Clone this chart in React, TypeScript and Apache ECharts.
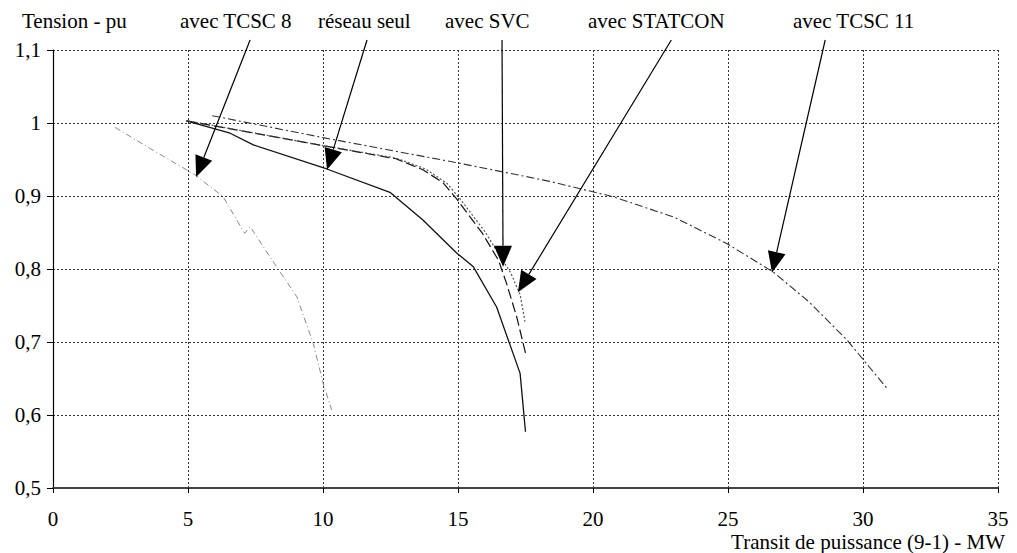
import React, { useEffect, useRef } from "react";
import * as echarts from "echarts";

const FONT = "Liberation Serif";

// X axis ticks (MW) and Y axis ticks (pu)
const xTicks = [0, 5, 10, 15, 20, 25, 30, 35];
const yTicks = [0.5, 0.6, 0.7, 0.8, 0.9, 1.0, 1.1];

// Series: réseau seul
const reseauX = [4.94, 6.56, 7.42, 10.14, 12.48, 13.7, 14.95, 15.57, 16.43, 17.3, 17.5];
const reseauY = [1.003, 0.986, 0.97, 0.937, 0.905, 0.867, 0.822, 0.803, 0.748, 0.657, 0.577];

// Series: avec SVC
const svcX = [4.94, 10.0, 12.7, 13.7, 14.45, 14.95, 15.9, 16.5, 16.8, 17.17, 17.5];
const svcY = [1.003, 0.969, 0.951, 0.936, 0.918, 0.896, 0.849, 0.812, 0.78, 0.735, 0.685];

// Series: avec STATCON
const statconX = [5.0, 10.0, 12.7, 13.8, 14.6, 15.1, 16.0, 16.6, 16.95, 17.3, 17.48];
const statconY = [1.003, 0.969, 0.952, 0.937, 0.917, 0.895, 0.851, 0.815, 0.795, 0.765, 0.728];

// Series: avec TCSC 8
const tcsc8X = [2.3, 3.6, 5.26, 6.3, 7.0, 7.1, 7.3, 8.28, 9.03, 9.64, 10.01, 10.32];
const tcsc8Y = [0.994, 0.965, 0.929, 0.899, 0.855, 0.849, 0.858, 0.803, 0.762, 0.698, 0.643, 0.607];

// Series: avec TCSC 11
const tcsc11X = [5.9, 10.0, 14.9, 16.8, 18.4, 20.75, 23.0, 24.95, 26.67, 28.0, 29.4, 30.9];
const tcsc11Y = [1.01, 0.98, 0.946, 0.932, 0.92, 0.899, 0.871, 0.835, 0.796, 0.755, 0.703, 0.636];

// Annotations (labels with arrows)
const annotationLabels = ["avec TCSC 8", "réseau seul", "avec SVC", "avec STATCON", "avec TCSC 11"];
const arrowStartX = [7.3, 11.63, 16.63, 22.9, 28.6];
const arrowTipX = [5.3, 10.15, 16.67, 17.22, 26.63];
const arrowTipY = [0.926, 0.936, 0.803, 0.768, 0.795];

const yTitle = "Tension - pu";
const xTitle = "Transit de puissance (9-1) - MW";

const zip = (xs: number[], ys: number[]) => xs.map((x, i) => [x, ys[i]]);

export default function App() {
  const ref = useRef<HTMLDivElement>(null);

  useEffect(() => {
    const el = ref.current;
    if (!el) return;
    const chart = echarts.init(el, null, { renderer: "svg" });

    const lineSeries = (name: string, data: number[][], color: string, type: any, width: number) => ({
      name,
      type: "line",
      data,
      showSymbol: false,
      symbol: "none",
      smooth: false,
      clip: false,
      lineStyle: { color, type, width },
      z: 3,
    });

    chart.setOption({
      animation: false,
      grid: { left: 53, right: 19, top: 50, bottom: 65, containLabel: false },
      xAxis: {
        type: "value",
        min: xTicks[0],
        max: xTicks[xTicks.length - 1],
        interval: 5,
        axisLine: { show: true, onZero: false, lineStyle: { color: "#444", width: 2 } },
        axisTick: { show: true, length: 5, lineStyle: { color: "#000", width: 1 } },
        axisLabel: { color: "#000", fontFamily: FONT, fontSize: 21, margin: 20 },
        splitLine: { show: true, lineStyle: { color: "#333", type: [2, 2], width: 1 } },
      },
      yAxis: {
        type: "value",
        min: yTicks[0],
        max: yTicks[yTicks.length - 1],
        interval: 0.1,
        axisLine: { show: true, onZero: false, lineStyle: { color: "#000", width: 1.2 } },
        axisTick: { show: true, length: 6, lineStyle: { color: "#000", width: 1 } },
        axisLabel: {
          color: "#000",
          fontFamily: FONT,
          fontSize: 21,
          margin: 12,
          formatter: (v: number) => String(Number(v.toFixed(1))).replace(".", ","),
        },
        splitLine: { show: true, lineStyle: { color: "#333", type: [2, 2], width: 1 } },
      },
      series: [
        lineSeries("réseau seul", zip(reseauX, reseauY), "#111", "solid", 1.3),
        lineSeries("avec SVC", zip(svcX, svcY), "#111", [10, 4], 1.2),
        lineSeries("avec STATCON", zip(statconX, statconY), "#555", [2, 2], 1.2),
        lineSeries("avec TCSC 8", zip(tcsc8X, tcsc8Y), "#888", [6, 3, 1, 3], 1),
        lineSeries("avec TCSC 11", zip(tcsc11X, tcsc11Y), "#333", [8, 3, 2, 3], 1.1),
      ],
    });

    const graphics: any[] = [];
    const labelLeft = [180, 318, 445, 588, 793];
    const textStyle = (text: string) => ({
      text,
      fontFamily: FONT,
      fontSize: 21,
      fill: "#000",
    });
    graphics.push({ type: "text", left: 22, top: 10, style: textStyle(yTitle) });
    annotationLabels.forEach((t, i) => {
      graphics.push({ type: "text", left: labelLeft[i], top: 10, style: textStyle(t) });
    });
    graphics.push({ type: "text", right: 12, top: 531, style: textStyle(xTitle) });

    const L = 21;
    const W = 9;
    annotationLabels.forEach((_, i) => {
      const s = chart.convertToPixel({ gridIndex: 0 }, [arrowStartX[i], 1.1]) as number[];
      const t = chart.convertToPixel({ gridIndex: 0 }, [arrowTipX[i], arrowTipY[i]]) as number[];
      const sx = s[0];
      const sy = 40;
      const dx = t[0] - sx;
      const dy = t[1] - sy;
      const len = Math.sqrt(dx * dx + dy * dy);
      const ux = dx / len;
      const uy = dy / len;
      const bx = t[0] - L * ux;
      const by = t[1] - L * uy;
      const px = -uy;
      const py = ux;
      graphics.push({
        type: "line",
        shape: { x1: sx, y1: sy, x2: bx, y2: by },
        style: { stroke: "#000", lineWidth: 1.2 },
        z: 10,
      });
      graphics.push({
        type: "polygon",
        shape: {
          points: [
            [t[0], t[1]],
            [bx + W * px, by + W * py],
            [bx - W * px, by - W * py],
          ],
        },
        style: { fill: "#000" },
        z: 10,
      });
    });

    chart.setOption({ graphic: graphics });

    return () => {
      chart.dispose();
    };
  }, []);

  return (
    <div style={{ position: "fixed", left: 0, top: 0, width: 1017, height: 553, background: "#fff", fontFamily: FONT }}>
      <div ref={ref} style={{ width: 1017, height: 553 }} />
      <span style={{ position: "absolute", left: 0, top: 0, opacity: 0, fontFamily: FONT, fontSize: 21, pointerEvents: "none" }}>
        .
      </span>
    </div>
  );
}
